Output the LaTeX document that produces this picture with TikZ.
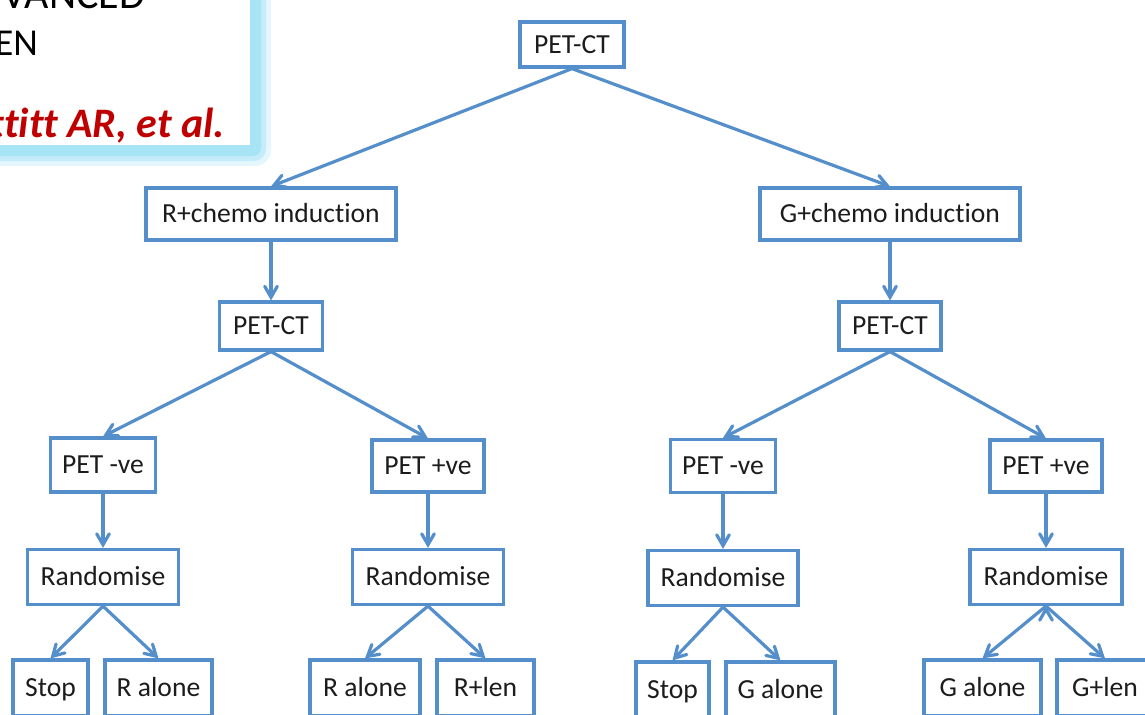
\documentclass[tikz,border=0pt]{standalone}
\usepackage{fontspec}
\setmainfont{Carlito}[Ligatures=NoCommon]
\usepackage{tikz}
\usetikzlibrary{arrows}

\definecolor{boxblue}{RGB}{84,142,203}
\definecolor{glowblue}{RGB}{166,228,246}
\definecolor{textgray}{RGB}{28,28,28}
\definecolor{citered}{RGB}{192,0,0}

\tikzset{
  box/.style={draw=boxblue, line width=1.6pt, fill=white, text=textgray,
    inner sep=0pt, font=\fontsize{13.8}{16}\selectfont,
    text height=8.9pt, text depth=0pt},
}

\begin{document}
\begin{tikzpicture}[x=0.5pt,y=-0.5pt]
		\useasboundingbox (0,0) rectangle (1145,714);
		\clip (0,0) rectangle (1145,714);
		% title panel (cut off)
		\fill[glowblue!30,rounded corners=8pt] (-30,-30) rectangle (271,166);
		\fill[glowblue!65,rounded corners=6pt] (-30,-30) rectangle (266,161);
		\fill[glowblue,rounded corners=4pt] (-30,-30) rectangle (261,156);
		\fill[white] (-30,-30) rectangle (250,145);
		\node (ttlA) [anchor=base east,font=\fontsize{21}{24}\selectfont] at (152,8) {VANCED};
		\node (ttlB) [anchor=base east,font=\fontsize{19}{22}\selectfont] at (45,55) {EN};
		\node (cite) [anchor=base east,text=citered,font=\fontsize{21}{24}\selectfont\bfseries\itshape] at (232,137) {ttitt AR, et al.};
		%
		\node (top) [box,minimum width=52pt,minimum height=22.5pt] at (572,44.5) {PET-CT};
		\node (rind) [box,minimum width=125pt,minimum height=26pt] at (271,214) {R+chemo induction};
		\node (gind) [box,minimum width=130pt,minimum height=26pt] at (890,214) {G+chemo induction};
		\node (lpet) [box,minimum width=51.5pt,minimum height=24pt] at (271,326) {PET-CT};
		\node (rpet) [box,minimum width=51pt,minimum height=24pt] at (890,326) {PET-CT};
		%
		\node (lneg) [box,minimum width=52.5pt,minimum height=27pt] at (103,465) {PET -ve};
		\node (lpos) [box,minimum width=56pt,minimum height=26pt] at (428,466) {PET +ve};
		\node (rneg) [box,minimum width=52.5pt,minimum height=26.5pt] at (723,466) {PET -ve};
		\node (rpos) [box,minimum width=56pt,minimum height=26pt] at (1046,466) {PET +ve};
		%
		\node (lnr) [box,minimum width=75.5pt,minimum height=27.5pt] at (103,577) {Randomise};
		\node (lpr) [box,minimum width=75.5pt,minimum height=27.5pt] at (428,577) {Randomise};
		\node (rnr) [box,minimum width=75pt,minimum height=27.5pt] at (723,578) {Randomise};
		\node (rpr) [box,minimum width=76pt,minimum height=27.5pt] at (1046,577) {Randomise};
		%
		\node (lnrA) [box,minimum width=37.5pt,minimum height=28pt] at (50.5,688) {Stop};
		\node (lnrB) [box,minimum width=53.5pt,minimum height=28pt] at (158.5,688) {R alone};
		\node (lprA) [box,minimum width=55pt,minimum height=28pt] at (365,688) {R alone};
		\node (lprB) [box,minimum width=48.5pt,minimum height=28pt] at (485.5,688) {R+len};
		\node (rnrA) [box,minimum width=36.5pt,minimum height=28pt] at (672.5,690) {Stop};
		\node (rnrB) [box,minimum width=54.5pt,minimum height=28pt] at (780.5,690) {G alone};
		\node (rprA) [box,minimum width=58.5pt,minimum height=28pt] at (982.5,688) {G alone};
		\node (rprB) [box,minimum width=48pt,minimum height=28pt] at (1105,688) {G+len};
		%
		\path[->,draw=boxblue,line width=1.6pt,>=angle 60]
		% first split
		(top.south) edge (rind.north)
		(top.south) edge (gind.north)
		% vertical arrows
		(rind) edge (lpet)
		(gind) edge (rpet)
		(lneg) edge (lnr)
		(lpos) edge (lpr)
		(rneg) edge (rnr)
		(rpos) edge (rpr)
		% PET-CT splits
		(lpet.south) edge (lneg.north)
		(lpet.south) edge (lpos.north)
		(rpet.south) edge (rneg.north)
		(rpet.south) edge (rpos.north)
		% randomised arms
		(lnr.south) edge (lnrA.north)
		(lnr.south) edge (lnrB.north)
		(lpr.south) edge (lprA.north)
		(lpr.south) edge (lprB.north)
		(rnr.south) edge (rnrA.north)
		(rnr.south) edge (rnrB.north)
		(rpr.south) edge (rprA.north)
		(rpr.south) edge (rprB.north);
\end{tikzpicture}
\end{document}
